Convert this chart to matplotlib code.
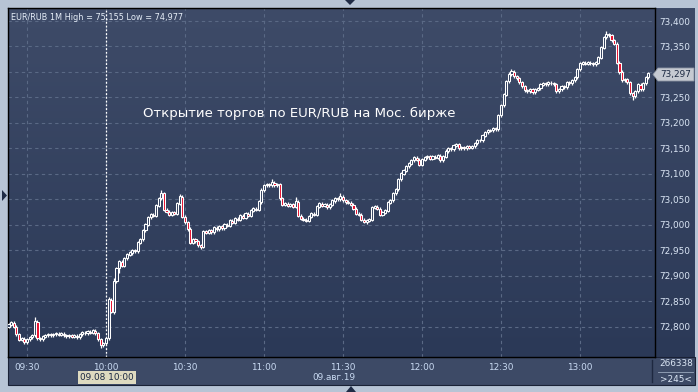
import numpy as np
import matplotlib.pyplot as plt
from matplotlib.colors import LinearSegmentedColormap
from matplotlib.patches import Rectangle, Polygon

# EUR/RUB 1-minute closes, 09:23 ... 13:26
closes = [72.804, 72.808, 72.800, 72.786, 72.775, 72.777, 72.770,
          72.776, 72.780, 72.784, 72.810, 72.778, 72.776, 72.781, 72.784, 72.786, 72.784,
          72.786, 72.787, 72.785, 72.787, 72.784, 72.782, 72.784, 72.781, 72.783, 72.780,
          72.786, 72.789, 72.788, 72.791, 72.789, 72.792, 72.788, 72.776, 72.764, 72.768,
          72.778, 72.853, 72.830, 72.890, 72.915, 72.928, 72.920, 72.935, 72.942, 72.945,
          72.950, 72.948, 72.965, 72.972, 72.990, 73.000, 73.015, 73.020, 73.018, 73.038,
          73.052, 73.062, 73.030, 73.026, 73.020, 73.025, 73.022, 73.042, 73.055, 73.016,
          73.005, 72.992, 72.965, 72.972, 72.968, 72.960, 72.957, 72.988, 72.985, 72.990,
          72.986, 72.994, 72.992, 72.997, 72.994, 73.000, 72.998, 73.008, 73.004, 73.012,
          73.010, 73.018, 73.014, 73.022, 73.018, 73.028, 73.032, 73.030, 73.045, 73.068,
          73.078, 73.080, 73.078, 73.083, 73.078, 73.080, 73.052, 73.040, 73.042, 73.038,
          73.041, 73.036, 73.045, 73.018, 73.012, 73.010, 73.008, 73.016, 73.022, 73.020,
          73.036, 73.042, 73.038, 73.040, 73.035, 73.040, 73.047, 73.052, 73.050, 73.055,
          73.048, 73.045, 73.044, 73.040, 73.032, 73.022, 73.020, 73.010, 73.006, 73.008,
          73.010, 73.034, 73.036, 73.032, 73.020, 73.024, 73.028, 73.044, 73.048, 73.062,
          73.070, 73.090, 73.100, 73.106, 73.115, 73.120, 73.127, 73.132, 73.128, 73.118,
          73.128, 73.133, 73.135, 73.130, 73.134, 73.132, 73.136, 73.127, 73.134, 73.145,
          73.150, 73.148, 73.155, 73.158, 73.150, 73.152, 73.150, 73.154, 73.151, 73.154,
          73.160, 73.166, 73.166, 73.175, 73.182, 73.185, 73.186, 73.190, 73.188, 73.215,
          73.235, 73.255, 73.282, 73.296, 73.300, 73.292, 73.288, 73.280, 73.272, 73.264,
          73.262, 73.266, 73.260, 73.265, 73.268, 73.275, 73.278, 73.276, 73.279, 73.278,
          73.276, 73.262, 73.266, 73.272, 73.270, 73.280, 73.278, 73.284, 73.290, 73.305,
          73.316, 73.318, 73.316, 73.318, 73.317, 73.315, 73.318, 73.328, 73.348, 73.368,
          73.374, 73.372, 73.362, 73.355, 73.318, 73.300, 73.284, 73.286, 73.280, 73.258,
          73.252, 73.262, 73.275, 73.266, 73.278, 73.290, 73.297]
first_open = 72.800
start_minute = -7   # minutes from 09:30

# candles with visible long wicks
high_marks = {3: 72.820, 31: 72.858, 33: 72.895, 51: 73.068, 58: 73.060, 89: 73.072,
              93: 73.090, 102: 73.055, 119: 73.063, 184: 73.306, 220: 73.380, 236: 73.300}
low_marks = {-1: 72.766, 28: 72.758, 33: 72.825, 35: 72.905, 66: 72.952, 129: 73.002,
             230: 73.245}

time_ticks = [0, 30, 60, 90, 120, 150, 180, 210]
time_labels = ['09:30', '10:00', '10:30', '11:00', '11:30', '12:00', '12:30', '13:00']
price_ticks = [72.80, 72.85, 72.90, 72.95, 73.00, 73.05, 73.10, 73.15, 73.20, 73.25, 73.30, 73.35, 73.40]
last_price = 73.297

W, H = 698, 392
def fx(px): return px / W
def fy(py): return 1 - py / H

minutes = np.arange(start_minute, start_minute + len(closes))
closes = np.array(closes)
opens = np.concatenate([[first_open], closes[:-1]])
highs = np.maximum(opens, closes) + 0.003
lows = np.minimum(opens, closes) - 0.003
for m, v in high_marks.items():
    highs[m - start_minute] = v
for m, v in low_marks.items():
    lows[m - start_minute] = v

fig = plt.figure(figsize=(6.98, 3.92), dpi=100)
fig.patch.set_facecolor('#b7c4d5')

grad = LinearSegmentedColormap.from_list('bg', ['#3e4b68', '#2b3957'])

# bottom strip
fig.patches.append(Rectangle((fx(8), fy(385)), fx(695) - fx(8), fy(357) - fy(385),
                             transform=fig.transFigure, facecolor='#3d4a66',
                             edgecolor='#1a2236', lw=0.8, zorder=0))

# right price panel
pan = fig.add_axes([fx(655), fy(357), fx(695) - fx(655), fy(8) - fy(357)], zorder=0)
pan.imshow(np.linspace(0, 1, 256).reshape(-1, 1), cmap=grad, aspect='auto', extent=[0, 1, 0, 1])
pan.set_axis_off()

ax = fig.add_axes([fx(8), fy(357), fx(655) - fx(8), fy(8) - fy(357)], zorder=1)
x0, x1 = -7.2, 238.5
y0, y1 = 72.741, 73.4255
ax.imshow(np.linspace(0, 1, 256).reshape(-1, 1), cmap=grad, aspect='auto',
          extent=[x0, x1, y0, y1], zorder=0)
ax.set_xlim(x0, x1)
ax.set_ylim(y0, y1)

for v in price_ticks:
    ax.axhline(v, color='#5a6985', lw=0.8, ls=(0, (3, 3)), zorder=1)
for t in time_ticks:
    ax.axvline(t, color='#5a6985', lw=0.8, ls=(0, (3, 3)), zorder=1)
ax.axvline(30, color='white', lw=0.9, ls=(0, (1.5, 1.5)), zorder=2)

# candles
ax.vlines(minutes, lows, highs, color='white', lw=0.9, zorder=3)
up = closes >= opens
ax.bar(minutes[up], (closes - opens)[up] + 0.001, bottom=opens[up], width=0.8,
       facecolor='#33415f', edgecolor='white', lw=0.75, zorder=4)
ax.bar(minutes[~up], (opens - closes)[~up], bottom=closes[~up], width=0.8,
       facecolor='#e8102e', edgecolor='white', lw=0.75, zorder=4)

ax.set_xticks(time_ticks)
ax.set_xticklabels(time_labels)
ax.set_yticks(price_ticks)
ax.set_yticklabels([f'{v:.3f}'.replace('.', ',') for v in price_ticks])
ax.yaxis.tick_right()
ax.tick_params(axis='y', length=0, pad=3, labelsize=6.4, labelcolor='#dbe6f5')
ax.tick_params(axis='x', length=0, pad=4, labelsize=6.4, labelcolor='#c9daf2')
for s in ax.spines.values():
    s.set_color('black')
    s.set_linewidth(1)

ax.text(0.004, 0.985, 'EUR/RUB 1M High = 75,155 Low = 74,977', transform=ax.transAxes,
        ha='left', va='top', fontsize=5.9, color='#e6eef8')
ax.text((299 - 8) / 647, 1 - (113 - 8) / 349, 'Открытие торгов по EUR/RUB на Мос. бирже',
        transform=ax.transAxes, ha='center', va='center', fontsize=9.5, color='white')

# last price box
bx0, bx1, by0, by1 = 658, 694, 68, 81
fig.patches.append(Polygon([(fx(653), fy(74.5)), (fx(bx0), fy(by0)), (fx(bx1), fy(by0)),
                            (fx(bx1), fy(by1)), (fx(bx0), fy(by1))],
                           closed=True, transform=fig.transFigure, facecolor='#c6cad2',
                           edgecolor='#8c94a4', lw=0.6, zorder=5))
fig.text(fx(676), fy(74.5), f'{last_price:.3f}'.replace('.', ','), ha='center', va='center',
         fontsize=6.4, color='#1c2942', zorder=6)

# bottom strip texts
fig.text(fx(107), fy(377.5), '09.08 10:00', ha='center', va='center', fontsize=6.4,
         color='#1c2942', bbox=dict(boxstyle='square,pad=0.25', facecolor='#dedac0',
                                    edgecolor='none'))
fig.text(fx(334), fy(377.5), '09.авг.19', ha='center', va='center', fontsize=6.4,
         color='#c9daf2')
fig.text(fx(676), fy(364), '266338', ha='center', va='center', fontsize=6.4, color='#dbe6f5')
fig.text(fx(676), fy(379), '>245<', ha='center', va='center', fontsize=6.4, color='#dbe6f5')
fig.lines.append(plt.Line2D([fx(658), fx(693)], [fy(372), fy(372)], transform=fig.transFigure,
                            color='#9aa8bd', lw=0.6))
fig.lines.append(plt.Line2D([fx(652), fx(652)], [fy(360), fy(382)], transform=fig.transFigure,
                            color='#1e2840', lw=1))

# frame arrows
tri = '#1f2b45'
fig.patches.append(Polygon([(fx(2), fy(190)), (fx(7), fy(195.5)), (fx(2), fy(201))],
                           transform=fig.transFigure, facecolor=tri, edgecolor='none'))
fig.patches.append(Polygon([(fx(345), fy(0)), (fx(355), fy(0)), (fx(350), fy(5))],
                           transform=fig.transFigure, facecolor=tri, edgecolor='none'))
fig.patches.append(Polygon([(fx(346), fy(392)), (fx(356), fy(392)), (fx(351), fy(386))],
                           transform=fig.transFigure, facecolor=tri, edgecolor='none'))

fig.savefig('out.png', dpi=100, facecolor=fig.get_facecolor())
